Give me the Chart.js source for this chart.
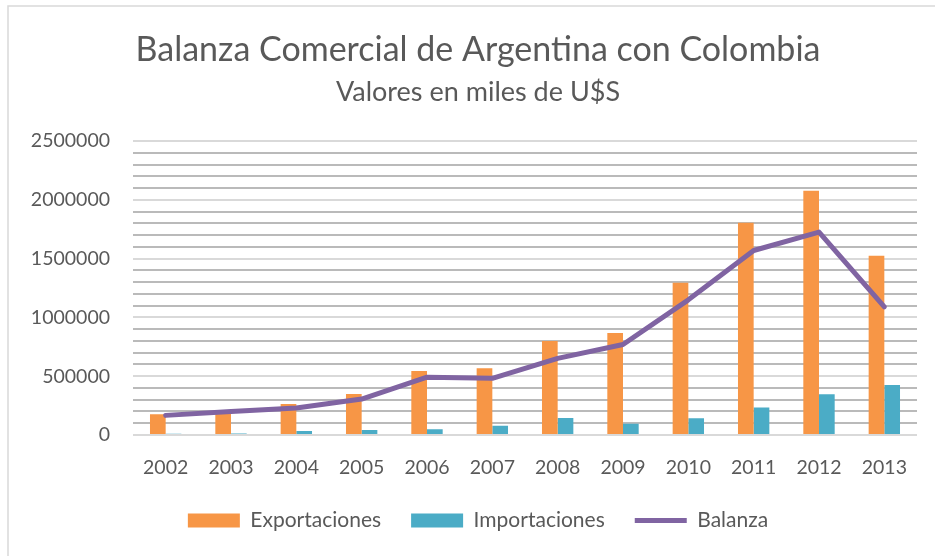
<!DOCTYPE html>
<html>
<head>
<meta charset="utf-8">
<script src="https://cdn.jsdelivr.net/npm/chart.js@4.4.1/dist/chart.umd.min.js"></script>
<style>
  html, body { margin: 0; padding: 0; background: #ffffff; }
  #wrap { position: relative; width: 935px; height: 556px; }
</style>
</head>
<body>
<div id="wrap"><canvas id="c" width="935" height="556"></canvas></div>
<script>
const years = ['2002','2003','2004','2005','2006','2007','2008','2009','2010','2011','2012','2013'];
const exportaciones = [176000, 212000, 264000, 349000, 545000, 568000, 800000, 869000, 1295000, 1806000, 2078000, 1525000];
const importaciones = [10000, 12000, 34000, 43000, 48000, 79000, 145000, 96000, 142000, 233000, 347000, 426000];
const balanza = [167000, 200000, 230000, 306000, 492000, 482000, 652000, 770000, 1150000, 1570000, 1727000, 1090000];
const titleText = 'Balanza Comercial de Argentina con Colombia';
const subtitleText = 'Valores en miles de U$S';

const FONT = 'Lato';
const TXT = '#595959';

const framePlugin = {
  id: 'frame',
  beforeDraw(chart) {
    const ctx = chart.ctx;
    ctx.save();
    ctx.fillStyle = '#ffffff';
    ctx.fillRect(0, 0, chart.width, chart.height);
    ctx.strokeStyle = '#d9d9d9';
    ctx.lineWidth = 1.5;
    ctx.beginPath();
    ctx.moveTo(8, chart.height);
    ctx.lineTo(8, 6);
    ctx.lineTo(chart.width, 6);
    ctx.stroke();
    ctx.restore();
  }
};

new Chart(document.getElementById('c'), {
  type: 'bar',
  data: {
    labels: years,
    datasets: [
      { label: 'Exportaciones', data: exportaciones, backgroundColor: '#F79646', borderWidth: 0,
        categoryPercentage: 0.48, barPercentage: 1.0, order: 1, pointStyle: 'rect' },
      { label: 'Importaciones', data: importaciones, backgroundColor: '#4BACC6', borderWidth: 0,
        categoryPercentage: 0.48, barPercentage: 1.0, order: 1, pointStyle: 'rect' },
      { type: 'line', label: 'Balanza', data: balanza, borderColor: '#8064A2', backgroundColor: '#8064A2',
        borderWidth: 5, pointRadius: 0, tension: 0, order: 0, pointStyle: 'line',
        borderCapStyle: 'round', borderJoinStyle: 'round' }
    ]
  },
  options: {
    responsive: false,
    animation: false,
    devicePixelRatio: 1,
    layout: { padding: { left: 21, right: 0, top: 0, bottom: 15 } },
    plugins: {
      tooltip: { enabled: false },
      title: {
        display: true, text: titleText, color: TXT,
        font: { family: FONT, size: 34, weight: 'normal', lineHeight: 1.2 },
        padding: { top: 30, bottom: 4 }
      },
      subtitle: {
        display: true, text: subtitleText, color: TXT,
        font: { family: FONT, size: 27, weight: 'normal', lineHeight: 1.2 },
        padding: { top: 1, bottom: 33 }
      },
      legend: {
        position: 'bottom',
        labels: {
          color: TXT,
          font: { family: FONT, size: 21 },
          usePointStyle: true,
          pointStyleWidth: 52,
          boxHeight: 14,
          padding: 30,
          sort: (a, b) => a.datasetIndex - b.datasetIndex
        }
      }
    },
    scales: {
      x: {
        grid: { display: false, drawTicks: false },
        border: { display: false },
        ticks: { color: TXT, font: { family: FONT, size: 19.5 }, padding: 21, maxRotation: 0 },
        afterFit: (s) => { s.height = 45; }
      },
      y: {
        min: 0, max: 2500000,
        border: { display: false },
        grid: {
          drawTicks: false,
          lineWidth: 2,
          color: (c) => (c.tick && c.tick.value % 500000 === 0) ? '#d9d9d9' : '#bababa'
        },
        ticks: {
          stepSize: 100000, autoSkip: false, padding: 23,
          color: TXT, font: { family: FONT, size: 19.5 },
          callback: (v) => (v % 500000 === 0) ? String(v) : ''
        },
        afterFit: (s) => { s.width = 112; }
      },
      yR: {
        position: 'right', display: true,
        grid: { display: false }, border: { display: false },
        ticks: { display: false },
        afterFit: (s) => { s.width = 18; }
      }
    }
  },
  plugins: [framePlugin]
});
</script>
</body>
</html>
